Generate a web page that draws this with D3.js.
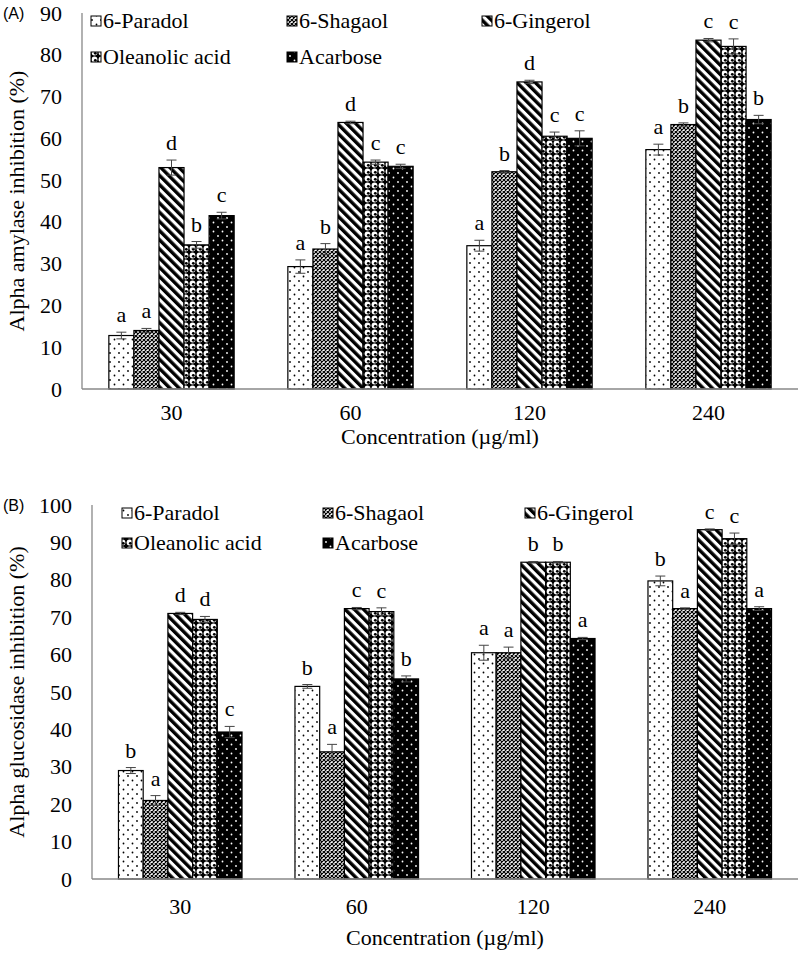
<!DOCTYPE html>
<html><head><meta charset="utf-8">
<script src="https://cdn.jsdelivr.net/npm/d3@7"></script>
<style>
body{margin:0;background:#fff}
svg{display:block}
text{font-family:"Liberation Serif","Times New Roman",serif;fill:#000}
</style>
</head><body><svg id="c" width="800" height="956"></svg>
<script>
// ---------- DATA ----------
const concentrations = ["30", "60", "120", "240"];
const series = ["6-Paradol", "6-Shagaol", "6-Gingerol", "Oleanolic acid", "Acarbose"];

// Panel A: alpha amylase inhibition (%) — one array per series, ordered by concentration
const amylaseMeans = [
  [12.8, 29.3, 34.3, 57.3],
  [14.0, 33.5, 52.0, 63.3],
  [53.0, 63.8, 73.5, 83.5],
  [34.5, 54.3, 60.5, 82.0],
  [41.5, 53.3, 60.0, 64.5]
];
const amylaseErrors = [
  [0.8, 1.6, 1.3, 1.3],
  [0.5, 1.3, 0.3, 0.4],
  [1.8, 0.3, 0.4, 0.4],
  [0.8, 0.5, 1.0, 1.8],
  [0.8, 0.5, 1.8, 1.0]
];
const amylaseLetters = [
  ["a", "a", "a", "a"],
  ["a", "b", "b", "b"],
  ["d", "d", "d", "c"],
  ["b", "c", "c", "c"],
  ["c", "c", "c", "b"]
];
const amylaseTicks = [0, 10, 20, 30, 40, 50, 60, 70, 80, 90];

// Panel B: alpha glucosidase inhibition (%)
const glucosidaseMeans = [
  [29.0, 51.5, 60.5, 79.7],
  [21.0, 34.0, 60.5, 72.3],
  [71.0, 72.3, 84.7, 93.4],
  [69.4, 71.5, 84.7, 91.0],
  [39.3, 53.5, 64.3, 72.3]
];
const glucosidaseErrors = [
  [0.8, 0.5, 2.0, 1.3],
  [1.3, 2.0, 1.5, 0.2],
  [0.3, 0.3, 0.2, 0.2],
  [0.8, 1.0, 0.2, 1.5],
  [1.5, 0.8, 0.3, 0.5]
];
const glucosidaseLetters = [
  ["b", "b", "a", "b"],
  ["a", "a", "a", "a"],
  ["d", "c", "b", "c"],
  ["d", "c", "b", "c"],
  ["c", "b", "a", "a"]
];
const glucosidaseTicks = [0, 10, 20, 30, 40, 50, 60, 70, 80, 90, 100];

// ---------- DRAWING ----------
const svg = d3.select("#c");
const defs = svg.append("defs");
const patternIds = ["p-paradol", "p-shagaol", "p-gingerol", "p-oleanolic", "p-acarbose"];

// 6-Paradol: white with sparse black dots
let p = defs.append("pattern").attr("id", "p-paradol").attr("patternUnits", "userSpaceOnUse").attr("width", 9).attr("height", 9);
p.append("rect").attr("width", 9).attr("height", 9).attr("fill", "#fff");
p.append("circle").attr("cx", 2).attr("cy", 2).attr("r", 0.9).attr("fill", "#000");
p.append("circle").attr("cx", 6.5).attr("cy", 6.5).attr("r", 0.9).attr("fill", "#000");
// 6-Shagaol: dense fine mesh
p = defs.append("pattern").attr("id", "p-shagaol").attr("patternUnits", "userSpaceOnUse").attr("width", 4).attr("height", 4);
p.append("rect").attr("width", 4).attr("height", 4).attr("fill", "#fff");
p.append("path").attr("d", "M0,0L4,4M4,0L0,4").attr("stroke", "#000").attr("stroke-width", 1.2);
// 6-Gingerol: wide diagonal stripes "\"
p = defs.append("pattern").attr("id", "p-gingerol").attr("patternUnits", "userSpaceOnUse").attr("width", 6.5).attr("height", 6.5).attr("patternTransform", "rotate(-45)");
p.append("rect").attr("width", 6.5).attr("height", 6.5).attr("fill", "#fff");
p.append("rect").attr("width", 3.4).attr("height", 6.5).attr("fill", "#000");
// Oleanolic acid: spheres
p = defs.append("pattern").attr("id", "p-oleanolic").attr("patternUnits", "userSpaceOnUse").attr("width", 7).attr("height", 7);
p.append("rect").attr("width", 7).attr("height", 7).attr("fill", "#000");
p.append("circle").attr("cx", 3.5).attr("cy", 3.5).attr("r", 2.9).attr("fill", "#fff");
p.append("circle").attr("cx", 4.3).attr("cy", 4.3).attr("r", 1.4).attr("fill", "#000");
// Acarbose: black with sparse white dots
p = defs.append("pattern").attr("id", "p-acarbose").attr("patternUnits", "userSpaceOnUse").attr("width", 9).attr("height", 9);
p.append("rect").attr("width", 9).attr("height", 9).attr("fill", "#000");
p.append("circle").attr("cx", 2).attr("cy", 2).attr("r", 0.9).attr("fill", "#fff");
p.append("circle").attr("cx", 6.5).attr("cy", 6.5).attr("r", 0.9).attr("fill", "#fff");

function drawPanel(cfg) {
  const g = svg.append("g");
  const x0 = d3.scaleBand().domain(concentrations).range([cfg.left, cfg.right]);
  const bw = x0.bandwidth();
  const x1 = d3.scaleBand().domain(series).range([bw * 0.15, bw * 0.85]);
  const y = d3.scaleLinear().domain([0, cfg.max]).range([cfg.bottom, cfg.top]);

  // y axis
  const ya = g.append("g").attr("transform", `translate(${cfg.left},0)`)
    .call(d3.axisLeft(y).tickValues(cfg.ticks).tickSize(0).tickPadding(20).tickFormat(d3.format("d")));
  ya.select(".domain").remove();
  ya.selectAll("text").attr("font-size", 22).attr("fill", "#000");

  // x axis labels
  const xa = g.append("g").attr("transform", `translate(0,${cfg.bottom})`)
    .call(d3.axisBottom(x0).tickSize(0).tickPadding(cfg.xPad));
  xa.select(".domain").remove();
  xa.selectAll("text").attr("font-size", 22).attr("fill", "#000");

  // bars
  series.forEach((s, si) => {
    concentrations.forEach((c, ci) => {
      const v = cfg.means[si][ci], e = cfg.errors[si][ci];
      const bx = x0(c) + x1(s), w = x1.bandwidth(), cx = bx + w / 2;
      g.append("rect").attr("x", bx).attr("y", y(v)).attr("width", w).attr("height", y(0) - y(v))
        .attr("fill", `url(#${patternIds[si]})`).attr("stroke", "#000").attr("stroke-width", 1.2);
      const eg = g.append("g").attr("stroke", "#444").attr("stroke-width", 1);
      eg.append("line").attr("x1", cx).attr("x2", cx).attr("y1", y(v + e)).attr("y2", y(v - e));
      eg.append("line").attr("x1", cx - 5).attr("x2", cx + 5).attr("y1", y(v + e)).attr("y2", y(v + e));
      eg.append("line").attr("x1", cx - 5).attr("x2", cx + 5).attr("y1", y(v - e)).attr("y2", y(v - e));
      g.append("text").attr("x", cx).attr("y", y(v + e) - 10).attr("text-anchor", "middle")
        .attr("font-size", 22).text(cfg.letters[si][ci]);
    });
  });

  // axis lines
  g.append("line").attr("x1", cfg.left).attr("x2", cfg.left).attr("y1", cfg.top).attr("y2", cfg.bottom)
    .attr("stroke", "#888").attr("stroke-width", 1.3);
  g.append("line").attr("x1", cfg.left).attr("x2", cfg.right).attr("y1", cfg.bottom).attr("y2", cfg.bottom)
    .attr("stroke", "#888").attr("stroke-width", 1.3);

  // titles
  g.append("text").attr("x", (cfg.left + cfg.right) / 2).attr("y", cfg.bottom + cfg.titleOff).attr("text-anchor", "middle")
    .attr("font-size", 22).text("Concentration (µg/ml)");
  g.append("text").attr("transform", `translate(24,${(cfg.top + cfg.bottom) / 2}) rotate(-90)`)
    .attr("text-anchor", "middle").attr("font-size", 22).text(cfg.ytitle);
  g.append("text").attr("x", 3).attr("y", cfg.top + 6).attr("font-size", 16)
    .style("font-family", "'Liberation Sans', Arial, sans-serif").text(cfg.label);

  // legend
  series.forEach((s, si) => {
    const col = si < 3 ? si : si - 3, row = si < 3 ? 0 : 1;
    const lx = cfg.legX[col], ly = cfg.legY[row];
    g.append("rect").attr("x", lx).attr("y", ly - 5).attr("width", 10).attr("height", 10)
      .attr("fill", `url(#${patternIds[si]})`).attr("stroke", "#000").attr("stroke-width", 1);
    g.append("text").attr("x", lx + 12).attr("y", ly + 7).attr("font-size", 22).text(s);
  });
}

drawPanel({
  left: 82, right: 798, top: 13, bottom: 389, max: 90, ticks: amylaseTicks,
  means: amylaseMeans, errors: amylaseErrors, letters: amylaseLetters,
  ytitle: "Alpha amylase inhibition (%)", label: "(A)",
  legX: [91, 287, 482], legY: [21, 57], xPad: 15, titleOff: 55
});
drawPanel({
  left: 92, right: 798, top: 505, bottom: 879, max: 100, ticks: glucosidaseTicks,
  means: glucosidaseMeans, errors: glucosidaseErrors, letters: glucosidaseLetters,
  ytitle: "Alpha glucosidase inhibition (%)", label: "(B)",
  legX: [122, 323, 525], legY: [513, 543], xPad: 19, titleOff: 66
});
</script>
</body></html>
